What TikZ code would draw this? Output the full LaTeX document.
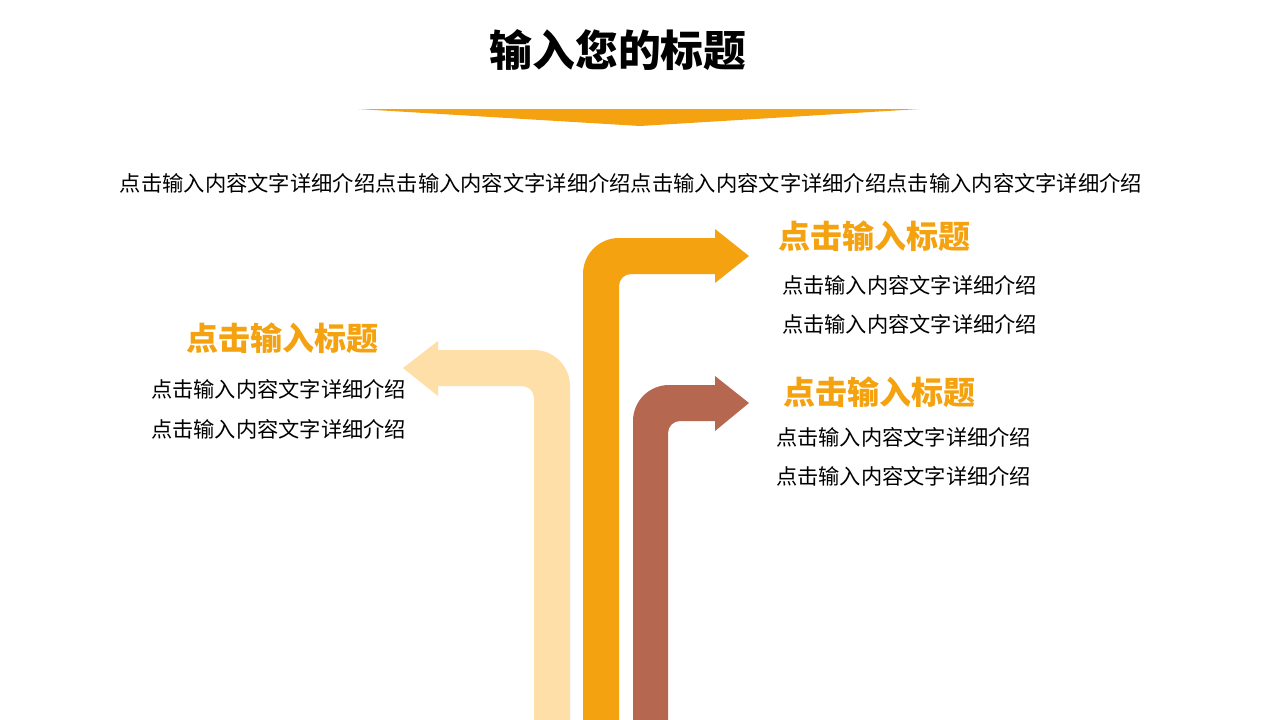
\documentclass[tikz,border=0pt]{standalone}
\usepackage{fontspec}
\newfontfamily\cjk{Noto Sans CJK SC}
\definecolor{orangeA}{HTML}{F4A20F}
\definecolor{lightA}{HTML}{FEDFA7}
\definecolor{brownA}{HTML}{B5674F}
\begin{document}
\begin{tikzpicture}[x=1pt,y=-1pt,
  every node/.style={inner sep=0pt,outer sep=0pt,font=\cjk},
  titletext/.style={font=\cjk\bfseries\fontsize{42.8}{46}\selectfont,text=black},
  bodytext/.style={font=\cjk\fontsize{21.25}{24}\selectfont,text=black,anchor=west},
  headtext/.style={font=\cjk\bfseries\fontsize{32}{36}\selectfont,text=orangeA,anchor=west}]
\useasboundingbox (0,0) rectangle (1280,720);
\fill[white] (0,0) rectangle (1280,720);
% title and banner
\node[titletext] (title) at (618,50) {输入您的标题};
\fill[orangeA] (358,109) -- (920,109) -- (640,126) -- cycle;
\node[font=\cjk\fontsize{21.3}{24}\selectfont] (intro) at (631,183) {点击输入内容文字详细介绍点击输入内容文字详细介绍点击输入内容文字详细介绍点击输入内容文字详细介绍};
% light arrow (left)
\fill[lightA] (570,720) -- (570,386) .. controls (570,366.1) and (553.9,350) .. (534,350)
  -- (438,350) -- (438,341) -- (403,368) -- (438,396) -- (438,386) -- (522,386)
  .. controls (528.6,386) and (534,391.4) .. (534,398) -- (534,720) -- cycle;
% orange arrow (top right)
\fill[orangeA] (583,720) -- (583,274) .. controls (583,254.1) and (599.1,238) .. (619,238)
  -- (715,238) -- (715,229) -- (749,256) -- (715,283) -- (715,274) -- (631,274)
  .. controls (624.4,274) and (619,279.4) .. (619,286) -- (619,720) -- cycle;
% brown arrow
\fill[brownA] (633,720) -- (633,421) .. controls (633,401.1) and (649.1,385) .. (669,385)
  -- (715,385) -- (715,376) -- (749,403) -- (715,431) -- (715,421) -- (680,421)
  .. controls (673.4,421) and (668,426.4) .. (668,433) -- (668,720) -- cycle;
% right top block
\node[headtext] (h1) at (778,236) {点击输入标题};
\node[bodytext] (b1a) at (782,285) {点击输入内容文字详细介绍};
\node[bodytext] (b1b) at (782,324) {点击输入内容文字详细介绍};
% right bottom block
\node[headtext] (h2) at (783,392) {点击输入标题};
\node[bodytext] (b2a) at (776,437) {点击输入内容文字详细介绍};
\node[bodytext] (b2b) at (776,476) {点击输入内容文字详细介绍};
% left block
\node[headtext] (h3) at (186,338) {点击输入标题};
\node[bodytext] (b3a) at (151,389) {点击输入内容文字详细介绍};
\node[bodytext] (b3b) at (151,429) {点击输入内容文字详细介绍};
\end{tikzpicture}
\end{document}
